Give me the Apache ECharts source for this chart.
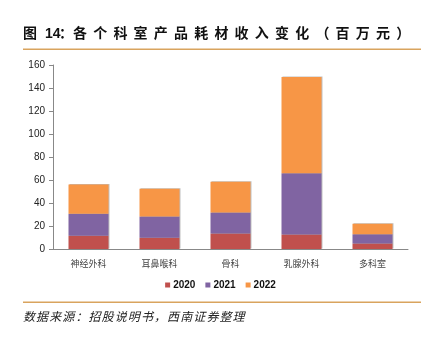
<!DOCTYPE html>
<html><head><meta charset="utf-8">
<script src="https://cdn.jsdelivr.net/npm/echarts@6/dist/echarts.min.js"></script>
<style>html,body{margin:0;padding:0;background:#fff;}#c{width:441px;height:338px;}</style>
</head><body><div id="c"></div>
<script>
const categories = ['神经外科','耳鼻喉科','骨科','乳腺外科','多科室'];
const s2020 = [11.6, 9.8, 13.5, 12.6, 4.7];
const s2021 = [19.1, 18.5, 18.2, 53.2, 8.2];
const s2022 = [25.3, 24.1, 26.8, 83.8, 9.0];
const seriesNames = ['2020','2021','2022'];
const yTicks = [0,20,40,60,80,100,120,140,160];
const titleText = '各个科室产品耗材收入变化（百万元）';
const sourceText = '数据来源：招股说明书，西南证券整理';

function spaced(text, x0, y, pitch, font, fill) {
  return Array.from(text).map((ch, i) => ({
    type:'text', x: x0 + i * pitch, y, style:{text:ch, font, fill}
  }));
}

const chart = echarts.init(document.getElementById('c'), null, {renderer:'canvas'});
const colors = ['#C0504D','#8064A2','#F79646'];
const mk = (name, data, i) => ({
  name, type:'bar', stack:'t', data, barWidth:40,
  itemStyle:{color:colors[i], shadowColor:'rgba(0,0,0,0.25)', shadowOffsetX:1, shadowOffsetY:-0.5, shadowBlur:0}
});
const titleFont = 'bold 14px "Noto Sans CJK SC"';
chart.setOption({
  animation:false,
  graphic:[
    {type:'text', x:23, y:26, style:{text:'图', font:titleFont, fill:'#111'}},
    {type:'text', x:45, y:27, style:{text:'14', font:'bold 14px "Liberation Sans"', fill:'#111'}},
    {type:'text', x:59, y:26, style:{text:'：', font:titleFont, fill:'#111'}},
    ...spaced(titleText, 73, 26, 20.2, titleFont, '#111'),
    {type:'rect', shape:{x:23, y:48.5, width:398, height:1.5}, style:{fill:'#D9A45E'}},
    {type:'rect', shape:{x:23, y:301.5, width:398, height:1.5}, style:{fill:'#D9A45E'}},
    ...spaced(sourceText, 23, 310, 13.1, 'italic 12px "Noto Sans CJK SC"', '#222')
  ],
  legend:{data:seriesNames, top:275, left:'center', itemWidth:5, itemHeight:5, itemGap:10, icon:'rect',
    textStyle:{fontSize:10, fontWeight:'bold', color:'#111', fontFamily:'Liberation Sans', padding:[0,0,0,-2]}},
  grid:{left:53, right:33, top:65, bottom:89},
  xAxis:{type:'category', data:categories,
    axisLine:{lineStyle:{color:'#888'}}, axisTick:{show:false},
    axisLabel:{fontSize:9, color:'#444', margin:10, fontFamily:'Noto Sans CJK SC'}},
  yAxis:{type:'value', min:yTicks[0], max:yTicks[yTicks.length-1], interval:20,
    axisLine:{show:true, lineStyle:{color:'#888'}}, axisTick:{show:true, length:4, inside:false, lineStyle:{color:'#888'}},
    splitLine:{show:false},
    axisLabel:{fontSize:10, color:'#222', margin:8, fontFamily:'Liberation Sans'}},
  series:[mk(seriesNames[0], s2020, 0), mk(seriesNames[1], s2021, 1), mk(seriesNames[2], s2022, 2)]
});
</script></body></html>
